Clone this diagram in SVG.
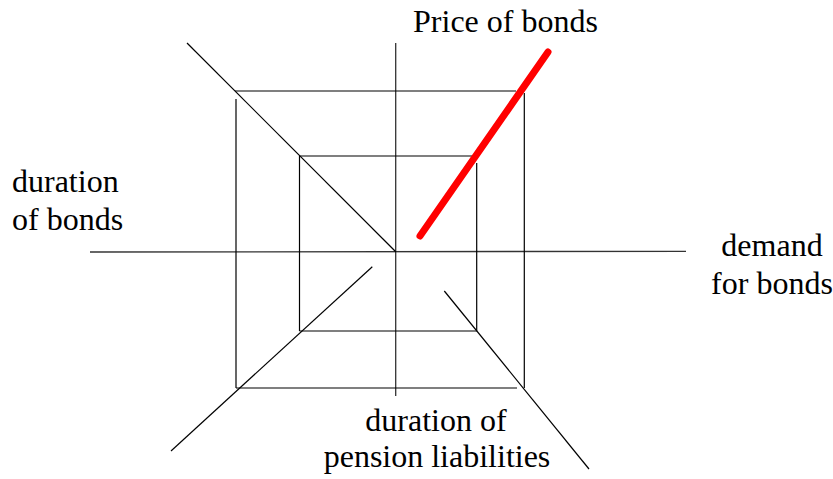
<svg xmlns="http://www.w3.org/2000/svg" width="833" height="479" viewBox="0 0 833 479">
<style>
.ln{stroke:#000;stroke-width:1.2;fill:none}
.ax{stroke:#333;stroke-width:1.3;fill:none}
.lbl{font-family:'Liberation Serif','Times New Roman',serif;font-size:32px;fill:#000}
</style>
<rect width="833" height="479" fill="#fff"/>
<g id="connectors">
<line class="ax" x1="90" y1="252" x2="686" y2="251.3"/>
<line class="ax" x1="395.7" y1="43" x2="395.7" y2="396"/>
<line class="ln" x1="187" y1="43" x2="396" y2="252"/>
<line class="ln" x1="235" y1="91" x2="516" y2="91" stroke="#222" stroke-width="1.7"/>
<line class="ln" x1="236" y1="99" x2="236" y2="388"/>
<line class="ln" x1="236" y1="388" x2="517" y2="388"/>
<line class="ln" x1="524.3" y1="93" x2="524.3" y2="388"/>
<line class="ln" x1="299" y1="156" x2="472" y2="156" stroke="#333"/>
<line class="ln" x1="299.5" y1="156" x2="299.5" y2="331"/>
<line class="ln" x1="299.5" y1="331" x2="477" y2="331"/>
<line class="ln" x1="476.7" y1="163" x2="476.7" y2="331"/>
<line class="ln" x1="372.3" y1="266.7" x2="171" y2="451"/>
<line class="ln" x1="444.3" y1="291" x2="589" y2="469"/>
<line x1="420" y1="236" x2="548" y2="52" stroke="#f00" stroke-width="7" stroke-linecap="round"/>
</g>
<g id="price"><text class="lbl" x="505.5" y="31.5" text-anchor="middle">Price of bonds</text></g>
<g id="duration-bonds"><text class="lbl" x="12" y="192">duration</text><text class="lbl" x="12" y="230">of bonds</text></g>
<g id="demand"><text class="lbl" text-anchor="middle" x="772" y="256">demand</text><text class="lbl" text-anchor="middle" x="772" y="294">for bonds</text></g>
<g id="duration-pension"><text class="lbl" text-anchor="middle" x="436" y="431">duration of</text><text class="lbl" text-anchor="middle" x="437" y="467">pension liabilities</text></g>
</svg>
